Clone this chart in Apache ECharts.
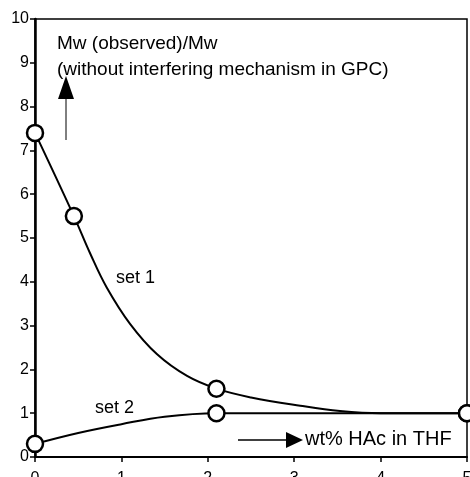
<!DOCTYPE html>
<html>
<head>
<meta charset="utf-8">
<script src="https://cdn.jsdelivr.net/npm/echarts@6/dist/echarts.min.js"></script>
<style>
  html, body { margin: 0; padding: 0; background: #fff; }
  #chart { width: 470px; height: 477px; }
</style>
</head>
<body>
<div id="chart"></div>
<script>
// measured points
var set1X = [0, 0.45, 2.1, 5];
var set1Y = [7.4, 5.5, 1.56, 1.0];
var set2X = [0, 2.1, 5];
var set2Y = [0.3, 1.0, 1.0];

// fitted curves
var curve1X = [0, 0.45, 0.64, 0.83, 1.1, 1.41, 1.76, 2.1, 2.5, 3.07, 3.53, 4, 5];
var curve1Y = [7.4, 5.5, 4.64, 3.87, 3.04, 2.35, 1.85, 1.56, 1.36, 1.17, 1.05, 1.0, 1.0];
var curve2X = [0, 0.5, 1, 1.5, 2.1, 3, 4, 5];
var curve2Y = [0.3, 0.55, 0.75, 0.92, 1.0, 1.0, 1.0, 1.0];

var xTicks = ['0', '1', '2', '3', '4', '5'];
var yTicks = ['0', '1', '2', '3', '4', '5', '6', '7', '8', '9', '10'];

function pairs(xs, ys) {
  return xs.map(function (x, i) { return [x, ys[i]]; });
}

var font = 'Liberation Sans, Arial, sans-serif';
var chart = echarts.init(document.getElementById('chart'));

var curveStyle = { color: '#000', width: 2 };
var markerStyle = { color: '#fff', borderColor: '#000', borderWidth: 2.5, opacity: 1 };

chart.setOption({
  animation: false,
  backgroundColor: '#fff',
  grid: {
    left: 35, right: 3, top: 19, bottom: 20,
    outerBoundsMode: 'none', containLabel: false,
    show: true, borderColor: '#000', borderWidth: 1.5, backgroundColor: 'transparent'
  },
  xAxis: {
    type: 'value', min: 0, max: 5, interval: 1,
    axisLine: { lineStyle: { color: '#000', width: 2 } },
    axisTick: { lineStyle: { color: '#000', width: 1.5 }, length: 5 },
    axisLabel: {
      color: '#000', fontSize: 16, fontFamily: font, margin: 14,
      formatter: function (v) { return xTicks[v]; }
    },
    splitLine: { show: false }
  },
  yAxis: {
    type: 'value', min: 0, max: 10, interval: 1,
    axisLine: { show: true, lineStyle: { color: '#000', width: 2.5 } },
    axisTick: { show: true, lineStyle: { color: '#000', width: 1.5 }, length: 5 },
    axisLabel: {
      color: '#000', fontSize: 16, fontFamily: font, margin: 6,
      formatter: function (v) { return yTicks[v]; }
    },
    splitLine: { show: false }
  },
  series: [
    {
      name: 'set 1 curve', type: 'line', data: pairs(curve1X, curve1Y),
      smooth: 0.4, showSymbol: false, lineStyle: curveStyle, z: 2
    },
    {
      name: 'set 2 curve', type: 'line', data: pairs(curve2X, curve2Y),
      smooth: 0.4, showSymbol: false, lineStyle: curveStyle, z: 2
    },
    {
      name: 'set 1', type: 'scatter', data: pairs(set1X, set1Y),
      symbol: 'circle', symbolSize: 16, itemStyle: markerStyle, clip: false, z: 5
    },
    {
      name: 'set 2', type: 'scatter', data: pairs(set2X, set2Y),
      symbol: 'circle', symbolSize: 16, itemStyle: markerStyle, clip: false, z: 5
    }
  ],
  graphic: [
    // y label
    { type: 'text', left: 57, top: 34, style: { text: 'Mw (observed)/Mw', font: '19px ' + font, fill: '#000' } },
    { type: 'text', left: 57, top: 60, style: { text: '(without interfering mechanism in GPC)', font: '19px ' + font, fill: '#000' } },
    { type: 'line', shape: { x1: 66, y1: 140, x2: 66, y2: 98 }, style: { stroke: '#000', lineWidth: 1 } },
    { type: 'polygon', shape: { points: [[66, 76], [58, 99], [74, 99]] }, style: { fill: '#000' } },
    // x label
    { type: 'line', shape: { x1: 238, y1: 440, x2: 288, y2: 440 }, style: { stroke: '#000', lineWidth: 1.5 } },
    { type: 'polygon', shape: { points: [[303, 440], [286, 432], [286, 448]] }, style: { fill: '#000' } },
    { type: 'text', left: 305, top: 429, style: { text: 'wt% HAc in THF', font: '20px ' + font, fill: '#000' } },
    // series names
    { type: 'text', left: 116, top: 269, style: { text: 'set 1', font: '18px ' + font, fill: '#000' } },
    { type: 'text', left: 95, top: 399, style: { text: 'set 2', font: '18px ' + font, fill: '#000' } }
  ]
});
</script>
</body>
</html>
